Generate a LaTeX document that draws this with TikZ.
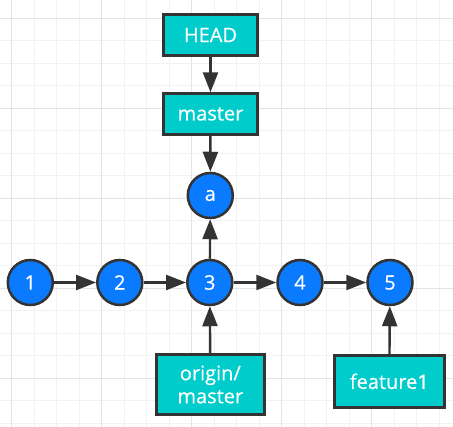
\documentclass[tikz,border=0pt]{standalone}
\usepackage{fontspec}
\setmainfont{Open Sans}[FakeBold=0.4]
\usetikzlibrary{arrows.meta}

\definecolor{commitblue}{HTML}{0A7BFF}
\definecolor{refteal}{HTML}{00CCCC}
\definecolor{edgegray}{HTML}{333333}
\definecolor{gridminor}{HTML}{F2F2F2}
\definecolor{gridmajor}{HTML}{E4E4E4}

\begin{document}
\begin{tikzpicture}[x=1pt, y=-1pt,
    commit/.style={circle, draw=edgegray, line width=2.5pt, fill=commitblue, text=white,
        minimum size=45pt, inner sep=0pt, font=\fontsize{20}{23}\selectfont},
    ref/.style={rectangle, draw=edgegray, line width=3pt, fill=refteal, text=white,
        align=center, inner sep=0pt, font=\fontsize{20}{23}\selectfont},
    link/.style={-{Triangle[length=20pt, width=15pt]}, line width=2.4pt, draw=edgegray}]
    \useasboundingbox (0,0) rectangle (453,427);
    \fill[white] (0,0) rectangle (453,427);
    % grid
    \foreach \i in {0,...,19}
        \draw[gridminor, line width=1.3pt] ({11.7+22.5*\i},0) -- ({11.7+22.5*\i},427);
    \foreach \j in {0,...,18}
        \draw[gridminor, line width=1.3pt] (0,{18.3+22.5*\j}) -- (453,{18.3+22.5*\j});
    \foreach \i in {0,4,...,16}
        \draw[gridmajor, line width=1.3pt] ({11.7+22.5*\i},0) -- ({11.7+22.5*\i},427);
    \foreach \j in {0,4,...,16}
        \draw[gridmajor, line width=1.3pt] (0,{18.3+22.5*\j}) -- (453,{18.3+22.5*\j});

    % commits
    \node[commit] (c1) at (30.3,282.5) {1};
    \node[commit] (c2) at (119.8,282.5) {2};
    \node[commit] (c3) at (209.8,282.5) {3};
    \node[commit] (c4) at (300,282.5) {4};
    \node[commit] (c5) at (390,282.5) {5};
    \node[commit] (ca) at (210.3,195.5) {a};

    % refs
    \node[ref, minimum width=94.6pt, minimum height=40.4pt] (head) at (210.5,35) {HEAD};
    \node[ref, minimum width=94.6pt, minimum height=40.4pt] (master) at (210.5,114) {master};
    \node[ref, minimum width=107.7pt, minimum height=59.4pt] (origin) at (210.3,384.5) {origin/\\master};
    \node[ref, minimum width=110.3pt, minimum height=51.7pt] (feature) at (389.3,381.3) {feature1};

    \draw[link] (c1) -- (c2);
    \draw[link] (c2) -- (c3);
    \draw[link] (c3) -- (c4);
    \draw[link] (c4) -- (c5);
    \draw[link] (c3) -- (ca);
    \draw[link] (master) -- (ca);
    \draw[link] (head) -- (master);
    \draw[link] (origin) -- (c3);
    \draw[link] (feature) -- (c5);
\end{tikzpicture}
\end{document}
